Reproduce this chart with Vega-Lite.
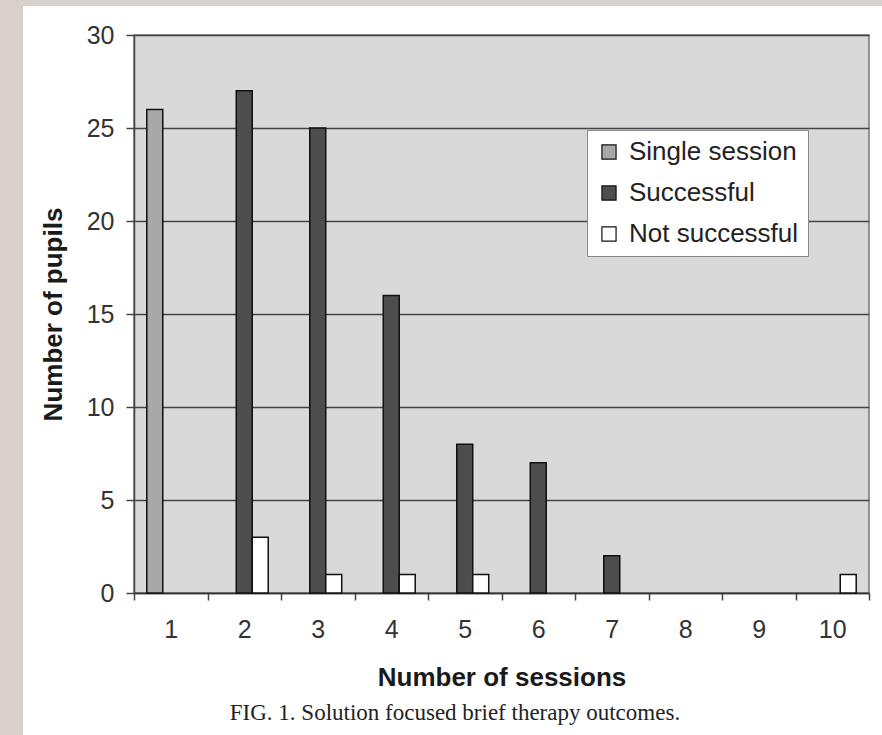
{
  "$schema": "https://vega.github.io/schema/vega-lite/v6.json",
  "padding": 0,
  "background": "#ffffff",
  "bounds": "flush",
  "spacing": 0,
  "config": {
    "view": {"fill": "#d9d9d9", "stroke": "#777777", "strokeWidth": 1.5}
  },
  "vconcat": [
    {
      "width": 882,
      "height": 6,
      "data": {"values": [{"k": 1}]},
      "mark": {"type": "point", "opacity": 0},
      "encoding": {},
      "view": {"fill": "#d8d0ca", "stroke": null}
    },
    {
      "bounds": "flush",
      "spacing": 111,
      "hconcat": [
        {
          "width": 23,
          "height": 729,
          "data": {"values": [{"k": 1}]},
          "mark": {"type": "point", "opacity": 0},
          "encoding": {},
          "view": {"fill": "#d8d0ca", "stroke": null}
        },
        {
          "bounds": "flush",
          "spacing": 28,
          "vconcat": [
            {
              "width": 735,
              "height": 1,
              "data": {"values": [{"k": 1}]},
              "mark": {"type": "point", "opacity": 0},
              "encoding": {},
              "view": {"fill": "#ffffff", "stroke": null}
            },
            {
              "width": 735,
              "height": 558,
              "title": {
                "text": "FIG. 1. Solution focused brief therapy outcomes.",
                "orient": "bottom",
                "anchor": "middle",
                "frame": "bounds",
                "font": "Liberation Serif",
                "fontSize": 23,
                "fontWeight": "normal",
                "color": "#222222",
                "offset": 12
              },
              "data": {
                "values": [
                  {"sessions": 1, "outcome": "Single session", "pupils": 26},
                  {"sessions": 2, "outcome": "Successful", "pupils": 27},
                  {"sessions": 2, "outcome": "Not successful", "pupils": 3},
                  {"sessions": 3, "outcome": "Successful", "pupils": 25},
                  {"sessions": 3, "outcome": "Not successful", "pupils": 1},
                  {"sessions": 4, "outcome": "Successful", "pupils": 16},
                  {"sessions": 4, "outcome": "Not successful", "pupils": 1},
                  {"sessions": 5, "outcome": "Successful", "pupils": 8},
                  {"sessions": 5, "outcome": "Not successful", "pupils": 1},
                  {"sessions": 6, "outcome": "Successful", "pupils": 7},
                  {"sessions": 7, "outcome": "Successful", "pupils": 2},
                  {"sessions": 10, "outcome": "Not successful", "pupils": 1}
                ]
              },
              "mark": {"type": "bar", "stroke": "#111111", "strokeWidth": 1.5},
              "encoding": {
                "x": {
                  "field": "sessions",
                  "type": "ordinal",
                  "scale": {"domain": [1, 2, 3, 4, 5, 6, 7, 8, 9, 10], "paddingInner": 0, "paddingOuter": 0},
                  "axis": {
                    "title": "Number of sessions",
                    "titleFont": "Liberation Sans",
                    "titleFontSize": 26,
                    "titleFontWeight": "bold",
                    "titleColor": "#1a1a1a",
                    "titlePadding": 22,
                    "labelFont": "Liberation Sans",
                    "labelFontSize": 25,
                    "labelColor": "#333333",
                    "labelAngle": 0,
                    "labelPadding": 17,
                    "tickBand": "extent",
                    "tickSize": 7,
                    "tickColor": "#444444",
                    "tickWidth": 1.5,
                    "domainColor": "#333333",
                    "domainWidth": 1.5,
                    "grid": false
                  }
                },
                "xOffset": {
                  "field": "outcome",
                  "type": "nominal",
                  "scale": {"domain": ["Single session", "Successful", "Not successful"], "paddingInner": 0, "paddingOuter": 0.8}
                },
                "y": {
                  "field": "pupils",
                  "type": "quantitative",
                  "scale": {"domain": [0, 30], "nice": false},
                  "axis": {
                    "title": "Number of pupils",
                    "titleFont": "Liberation Sans",
                    "titleFontSize": 26,
                    "titleFontWeight": "bold",
                    "titleColor": "#1a1a1a",
                    "titlePadding": 20,
                    "values": [0, 5, 10, 15, 20, 25, 30],
                    "labelFont": "Liberation Sans",
                    "labelFontSize": 25,
                    "labelColor": "#333333",
                    "labelPadding": 12,
                    "tickSize": 8,
                    "tickColor": "#444444",
                    "tickWidth": 1.5,
                    "domainColor": "#444444",
                    "domainWidth": 1.5,
                    "grid": true,
                    "gridColor": "#444444",
                    "gridWidth": 1.5
                  }
                },
                "fill": {
                  "field": "outcome",
                  "type": "nominal",
                  "scale": {"domain": ["Single session", "Successful", "Not successful"], "range": ["#a8a8a8", "#4d4d4d", "#ffffff"]},
                  "legend": {
                    "title": null,
                    "orient": "none",
                    "legendX": 587,
                    "legendY": 130,
                    "fillColor": "#ffffff",
                    "strokeColor": "#888888",
                    "padding": 9,
                    "symbolType": "square",
                    "symbolSize": 200,
                    "symbolStrokeColor": "#111111",
                    "symbolStrokeWidth": 1.2,
                    "labelFont": "Liberation Sans",
                    "labelFontSize": 26,
                    "labelLimit": 400,
                    "labelColor": "#222222",
                    "labelOffset": 7,
                    "rowPadding": 15
                  }
                }
              }
            }
          ]
        }
      ]
    }
  ]
}
